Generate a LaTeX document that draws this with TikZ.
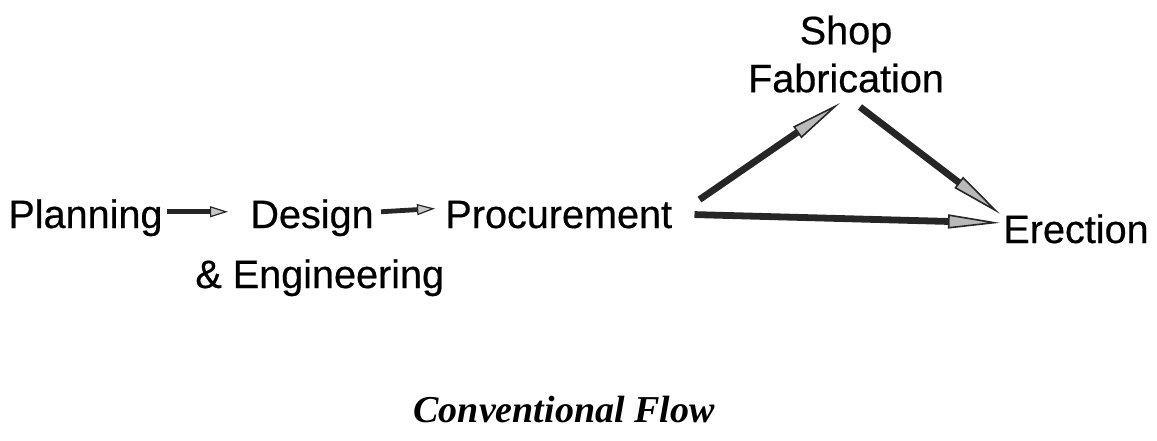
\documentclass[tikz,border=0pt]{standalone}
\usepackage{fontspec}
\setmainfont[FakeBold=0.5]{Liberation Sans}
\newfontfamily\capfont{Liberation Serif}
\usetikzlibrary{arrows.meta}
\tikzset{
  lbl/.style={inner sep=0pt, font=\fontsize{19.8}{24}\selectfont, align=center},
  bigarrow/.style={draw=black!85, line width=3.4pt,
    -{Triangle[length=26pt,width=7pt,line width=0.8pt,fill=gray!55]}},
  smallarrow/.style={draw=black!85, line width=2.4pt,
    -{Triangle[length=9pt,width=5.5pt,line width=0.6pt,fill=gray!45]}},
}
\begin{document}
\begin{tikzpicture}[x=0.5pt,y=-0.5pt]
\useasboundingbox (0,0) rectangle (1157,440);
\node[lbl, anchor=base west] (plan) at (8,228) {Planning};
\node[lbl, anchor=base west] (design) at (250,228) {Design};
\node[lbl, anchor=base west] (eng) at (195,288) {\& Engineering};
\node[lbl, anchor=base west] (proc) at (445,228) {Procurement};
\node[lbl, anchor=south] (fab) at (846,93) {Shop\\Fabrication};
\node[lbl, anchor=base west] (erec) at (1003,243) {Erection};
\node[inner sep=0pt, font=\capfont\fontsize{19}{21}\selectfont\bfseries\itshape, anchor=base] (title) at (564,422) {Conventional Flow};

\draw[smallarrow] ([xshift=2pt,yshift=3pt]plan.east) -- ([xshift=-11pt,yshift=3pt]design.west);
\draw[smallarrow] ([xshift=3.5pt,yshift=3pt]design.east) -- ([xshift=-5pt,yshift=3pt]proc.west);
\draw[bigarrow] ([xshift=13.5pt,yshift=7.5pt]proc.east) -- ([xshift=-3pt,yshift=-5pt]fab.south);
\draw[bigarrow] ([xshift=7pt,yshift=-7pt]fab.south) -- ([xshift=-1.5pt,yshift=7.5pt]erec.west);
\draw[bigarrow] ([xshift=11pt,yshift=0pt]proc.east) -- ([xshift=-1.5pt,yshift=3pt]erec.west);
\end{tikzpicture}
\end{document}
